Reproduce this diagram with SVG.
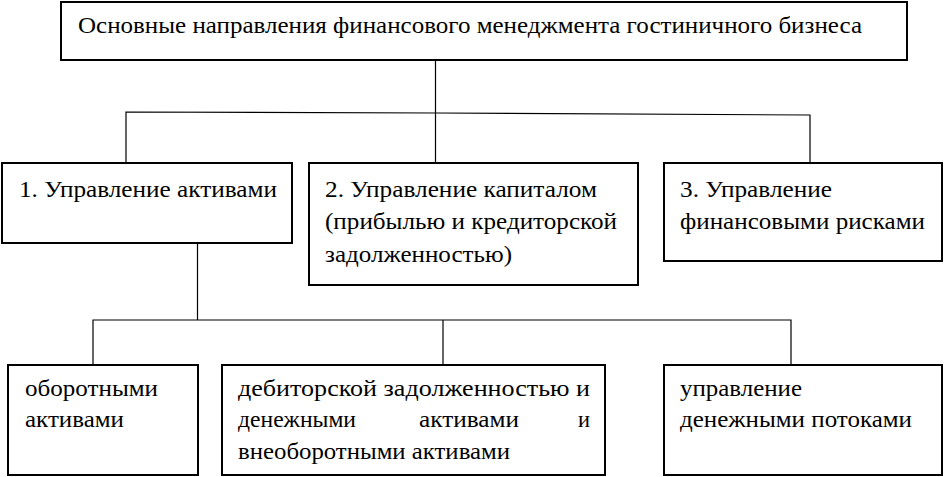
<svg xmlns="http://www.w3.org/2000/svg" width="944" height="477" viewBox="0 0 944 477">
<style>
.box{fill:#fff;stroke:#000;stroke-width:2}
text{font-family:"Liberation Serif","Times New Roman",serif;font-size:23.5px;fill:#000}
.c{stroke:#000;stroke-width:1.2;fill:none}
</style>
<rect width="944" height="477" fill="#fff"/>
<g id="connectors">
<line class="c" x1="435.5" y1="60" x2="435.5" y2="163"/>
<polyline class="c" points="126,163 126,112 435.5,113 810,115 810,163"/>
<line class="c" x1="197.5" y1="243" x2="197.5" y2="320"/>
<polyline class="c" points="93,365 93,320 791,320 791,365"/>
<line class="c" x1="443" y1="320" x2="443" y2="365"/>
</g>
<g id="root">
<rect class="box" x="61" y="2" width="846" height="58"/>
<text x="78" y="33" textLength="784" lengthAdjust="spacingAndGlyphs">Основные направления финансового менеджмента гостиничного бизнеса</text>
</g>
<g id="n1">
<rect class="box" x="2" y="163" width="290" height="80"/>
<text x="19" y="197" textLength="258" lengthAdjust="spacingAndGlyphs">1. Управление активами</text>
</g>
<g id="n2">
<rect class="box" x="309" y="163" width="329" height="122"/>
<text x="325" y="197" textLength="272" lengthAdjust="spacingAndGlyphs">2. Управление капиталом</text>
<text x="325" y="229" textLength="292" lengthAdjust="spacingAndGlyphs">(прибылью и кредиторской</text>
<text x="325" y="262" textLength="187" lengthAdjust="spacingAndGlyphs">задолженностью)</text>
</g>
<g id="n3">
<rect class="box" x="664" y="163" width="278" height="98"/>
<text x="680" y="197" textLength="152" lengthAdjust="spacingAndGlyphs">3. Управление</text>
<text x="680" y="229" textLength="245" lengthAdjust="spacingAndGlyphs">финансовыми рисками</text>
</g>
<g id="n4">
<rect class="box" x="8" y="365" width="190" height="110"/>
<text x="25" y="396" textLength="133" lengthAdjust="spacingAndGlyphs">оборотными</text>
<text x="25" y="427" textLength="99" lengthAdjust="spacingAndGlyphs">активами</text>
</g>
<g id="n5">
<rect class="box" x="222" y="365" width="383" height="110"/>
<text x="238" y="396" textLength="352" lengthAdjust="spacingAndGlyphs">дебиторской задолженностью и</text>
<text x="238" y="427" textLength="118" lengthAdjust="spacingAndGlyphs">денежными</text>
<text x="419" y="427" textLength="100" lengthAdjust="spacingAndGlyphs">активами</text>
<text x="578" y="427" textLength="12" lengthAdjust="spacingAndGlyphs">и</text>
<text x="238" y="459" textLength="272" lengthAdjust="spacingAndGlyphs">внеоборотными активами</text>
</g>
<g id="n6">
<rect class="box" x="664" y="365" width="278" height="110"/>
<text x="680" y="396" textLength="122" lengthAdjust="spacingAndGlyphs">управление</text>
<text x="680" y="427" textLength="232" lengthAdjust="spacingAndGlyphs">денежными потоками</text>
</g>
</svg>
